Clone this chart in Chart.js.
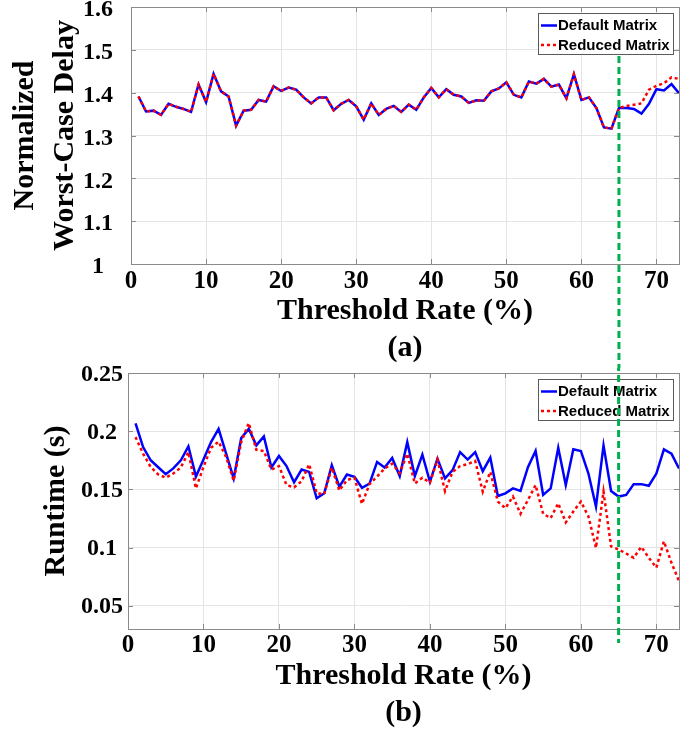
<!DOCTYPE html>
<html><head><meta charset="utf-8">
<script src="https://cdn.jsdelivr.net/npm/chart.js@4"></script>
<style>
html,body{margin:0;padding:0;background:#fff;}
#wrap{position:relative;width:699px;height:736px;overflow:hidden;background:#fff;}
canvas{position:absolute;left:0;}
#c1{top:0;}
#c2{top:340px;}
</style></head><body>
<div id="wrap"><canvas id="c1" width="699" height="370"></canvas><canvas id="c2" width="699" height="396"></canvas></div>
<script>
// ---------------- data ----------------
const thresholds = [1,2,3,4,5,6,7,8,9,10,11,12,13,14,15,16,17,18,19,20,21,22,23,24,25,26,27,28,29,30,31,32,33,34,35,36,37,38,39,40,41,42,43,44,45,46,47,48,49,50,51,52,53,54,55,56,57,58,59,60,61,62,63,64,65,66,67,68,69,70,71,72,73];

const delayDefault = [1.391,1.356,1.358,1.348,1.374,1.367,1.362,1.355,1.419,1.378,
  1.444,1.403,1.391,1.323,1.358,1.360,1.383,1.379,1.415,1.404,
  1.412,1.407,1.389,1.375,1.389,1.389,1.359,1.374,1.383,1.368,
  1.337,1.375,1.348,1.362,1.369,1.355,1.372,1.360,1.389,1.411,
  1.389,1.408,1.395,1.391,1.376,1.382,1.381,1.403,1.410,1.424,
  1.395,1.389,1.426,1.421,1.432,1.414,1.419,1.387,1.443,1.383,
  1.389,1.364,1.319,1.316,1.364,1.364,1.362,1.351,1.374,1.408,
  1.405,1.420,1.399];
const delayReduced = [1.391,1.356,1.358,1.348,1.374,1.367,1.362,1.355,1.419,1.378,
  1.444,1.403,1.391,1.323,1.358,1.360,1.383,1.379,1.415,1.404,
  1.412,1.407,1.389,1.375,1.389,1.389,1.359,1.374,1.383,1.368,
  1.337,1.375,1.348,1.362,1.369,1.355,1.372,1.360,1.389,1.411,
  1.389,1.408,1.395,1.391,1.376,1.382,1.381,1.403,1.410,1.424,
  1.395,1.389,1.426,1.421,1.432,1.414,1.419,1.387,1.443,1.383,
  1.389,1.364,1.319,1.316,1.364,1.369,1.372,1.375,1.407,1.416,
  1.422,1.436,1.432];

const runtimeDefault = [0.2068,0.1864,0.175,0.169,0.163,0.168,0.175,0.187,0.161,0.1756,
  0.1906,0.202,0.1807,0.1594,0.194,0.202,0.1878,0.1955,0.1688,0.1787,
  0.170,0.156,0.167,0.165,0.1423,0.1466,0.1707,0.1523,0.1628,0.1608,
  0.1514,0.155,0.1736,0.1688,0.177,0.1614,0.1906,0.1614,0.1798,0.1565,
  0.1764,0.1594,0.1665,0.182,0.1756,0.182,0.1656,0.1773,0.1443,0.1466,
  0.1508,0.1486,0.1693,0.183,0.1452,0.1508,0.1858,0.1537,0.1844,0.183,
  0.1636,0.1352,0.1878,0.1486,0.1438,0.1452,0.1545,0.1545,0.1531,0.1636,
  0.1844,0.1807,0.168];
const runtimeReduced = [0.1949,0.1807,0.1693,0.1628,0.160,0.1636,0.1688,0.182,0.1508,0.1693,
  0.1858,0.191,0.1778,0.1574,0.1906,0.207,0.184,0.183,0.167,0.170,
  0.1537,0.1517,0.157,0.1716,0.1466,0.146,0.1688,0.149,0.158,0.160,
  0.1375,0.1546,0.161,0.168,0.172,0.164,0.1807,0.155,0.160,0.1557,
  0.1756,0.1486,0.165,0.170,0.1716,0.1744,0.148,0.165,0.1395,0.1338,
  0.1438,0.129,0.141,0.1537,0.129,0.1253,0.138,0.1216,0.131,0.1395,
  0.1267,0.0997,0.148,0.101,0.0983,0.0949,0.0912,0.1006,0.0912,0.0827,
  0.1054,0.0869,0.0713];

const xTicks = [0,10,20,30,40,50,60,70];
const xTickLabels = ['0','10','20','30','40','50','60','70'];
const delayTicks = [1,1.1,1.2,1.3,1.4,1.5,1.6];
const delayTickLabels = ['1','1.1','1.2','1.3','1.4','1.5','1.6'];
const runtimeTicks = [0.05,0.1,0.15,0.2,0.25];
const runtimeTickLabels = ['0.05','0.1','0.15','0.2','0.25'];
const seriesLabels = ['Default Matrix','Reduced Matrix'];
const markerRate = 65;

// ---------------- styling helpers ----------------
const SERIF = 'Liberation Serif';
const BLUE = 'rgb(0,0,255)', RED = 'rgb(255,0,0)', GREEN = 'rgb(0,176,80)';
const GRID = '#e4e4e4', AXIS = '#8a8a8a';
const DASH = [7,4];
const TOP_CANVAS_H = 370, BOTTOM_CANVAS_TOP = 340, JOIN_Y = 368;
let greenStartY = 57;

function pts(xs, ys){ return xs.map((x,i)=>({x:x,y:ys[i]})); }

function datasets(dDef, dRed){
  return [
    {label:seriesLabels[0], data:pts(thresholds,dDef), borderColor:BLUE, borderWidth:2.5, pointRadius:0, fill:false, tension:0, order:2},
    {label:seriesLabels[1], data:pts(thresholds,dRed), borderColor:RED, borderWidth:2.5, borderDash:[3,3], pointRadius:0, fill:false, tension:0, order:1}
  ];
}

function boxPlugin(which){
  return {
    id:'matlabBox'+which,
    afterDraw(chart){
      const {ctx, chartArea:a, scales:{x, y}} = chart;
      ctx.save();
      ctx.strokeStyle = AXIS; ctx.lineWidth = 1; ctx.setLineDash([]);
      ctx.beginPath();
      x.ticks.forEach(t=>{
        const px = Math.round(x.getPixelForValue(t.value)) + 0.5;
        if (px <= a.left + 1 || px >= a.right - 1) return;
        ctx.moveTo(px, a.bottom); ctx.lineTo(px, a.bottom - 5);
        ctx.moveTo(px, a.top); ctx.lineTo(px, a.top + 5);
      });
      y.ticks.forEach(t=>{
        const py = Math.round(y.getPixelForValue(t.value)) + 0.5;
        if (py <= a.top + 1 || py >= a.bottom - 1) return;
        ctx.moveTo(a.left, py); ctx.lineTo(a.left + 5, py);
        ctx.moveTo(a.right, py); ctx.lineTo(a.right - 5, py);
      });
      ctx.stroke();
      ctx.strokeRect(Math.round(a.left) + 0.5, Math.round(a.top) + 0.5, Math.round(a.right - a.left), Math.round(a.bottom - a.top));
      // legend box
      const bx = Math.round(a.right - 141), by = Math.round(a.top + 6), bw = 135, bh = 41;
      ctx.fillStyle = '#fff'; ctx.fillRect(bx, by, bw, bh);
      ctx.strokeStyle = '#5a5a5a'; ctx.strokeRect(bx + 0.5, by + 0.5, bw, bh);
      chart.data.datasets.forEach((ds, i)=>{
        const yy = by + 12.5 + i * 19.5;
        ctx.strokeStyle = ds.borderColor; ctx.lineWidth = ds.borderWidth;
        ctx.setLineDash(ds.borderDash || []);
        ctx.beginPath(); ctx.moveTo(bx + 3, yy); ctx.lineTo(bx + 19, yy); ctx.stroke();
        ctx.setLineDash([]);
        ctx.fillStyle = '#000'; ctx.font = 'bold 15px "Liberation Sans", Arial, sans-serif';
        ctx.textBaseline = 'middle'; ctx.textAlign = 'left';
        ctx.fillText(ds.label, bx + 20, yy + 0.5);
      });
      // green threshold marker
      const gx = x.getPixelForValue(markerRate);
      ctx.strokeStyle = GREEN; ctx.lineWidth = 3; ctx.setLineDash(DASH);
      ctx.beginPath();
      if (which === 'top') {
        greenStartY = by + bh + 2;
        ctx.lineDashOffset = 0;
        ctx.moveTo(gx, greenStartY); ctx.lineTo(gx, JOIN_Y);
      } else {
        const startLocal = JOIN_Y - BOTTOM_CANVAS_TOP;
        ctx.lineDashOffset = -(startLocal) + (JOIN_Y - greenStartY) + startLocal;
        ctx.lineDashOffset = (JOIN_Y - greenStartY) % (DASH[0] + DASH[1]);
        ctx.moveTo(gx, startLocal); ctx.lineTo(gx, a.bottom + 14);
      }
      ctx.stroke();
      ctx.restore();
    }
  };
}

function makeConfig(opt){
  return {
    type:'line',
    data:{datasets:datasets(opt.d1, opt.d2)},
    options:{
      responsive:false, animation:false, events:[],
      layout:{padding:{left:0, right:20, top:opt.padTop, bottom:0}},
      plugins:{
        legend:{display:false}, tooltip:{enabled:false},
        title:{display:true, fullSize:false, position:'bottom', text:opt.sub, color:'#000',
          font:{family:SERIF, size:30, weight:'bold', lineHeight:1.2}, padding:{top:0, bottom:opt.subPad}}
      },
      scales:{
        x:{type:'linear', min:0, max:73,
          afterBuildTicks:s=>{ s.ticks = xTicks.map(v=>({value:v})); },
          afterFit:s=>{ s.height = 66; s.paddingLeft = 0; s.paddingRight = 0; },
          grid:{color:GRID, drawTicks:false}, border:{display:false},
          ticks:{autoSkip:false, maxRotation:0, padding:opt.xTickPad, color:'#000',
            font:{family:SERIF, size:25, weight:'bold'}, callback:(v,i)=>xTickLabels[i]},
          title:{display:true, text:'Threshold Rate (%)', color:'#000',
            font:{family:SERIF, size:30, weight:'bold', lineHeight:1.2}, padding:{top:0, bottom:1}}
        },
        y:{type:'linear', min:opt.yMin, max:opt.yMax,
          afterBuildTicks:s=>{ s.ticks = opt.yTicks.map(v=>({value:v})); },
          afterFit:s=>{ s.width = opt.yWidth; s.paddingTop = 0; s.paddingBottom = 0; },
          grid:{color:GRID, drawTicks:false}, border:{display:false},
          ticks:{crossAlign:'center', padding:opt.yTickPad, labelOffset:opt.yLabelOffset, color:'#000',
            font:{family:SERIF, size:24, weight:'bold'}, callback:(v,i)=>opt.yLabels[i]},
          title:{display:true, text:opt.yTitle, color:'#000',
            font:{family:SERIF, size:30, weight:'bold', lineHeight:1.333}, padding:{top:opt.yTitlePad, bottom:0}}
        }
      }
    },
    plugins:[boxPlugin(opt.which)]
  };
}

new Chart(document.getElementById('c1'), makeConfig({
  which:'top', d1:delayDefault, d2:delayReduced, padTop:7, sub:'(a)', subPad:4, xTickPad:3,
  yMin:1, yMax:1.6, yTicks:delayTicks, yLabels:delayTickLabels, yWidth:131, yTickPad:18, yLabelOffset:3,
  yTitle:['Normalized','Worst-Case Delay'], yTitlePad:5
}));
new Chart(document.getElementById('c2'), makeConfig({
  which:'bottom', d1:runtimeDefault, d2:runtimeReduced, padTop:33, sub:'(b)', subPad:5, xTickPad:2,
  yMin:0.03, yMax:0.25, yTicks:runtimeTicks, yLabels:runtimeTickLabels, yWidth:128, yTickPad:5, yLabelOffset:1.5,
  yTitle:'Runtime (s)', yTitlePad:36
}));
</script>
</body></html>
